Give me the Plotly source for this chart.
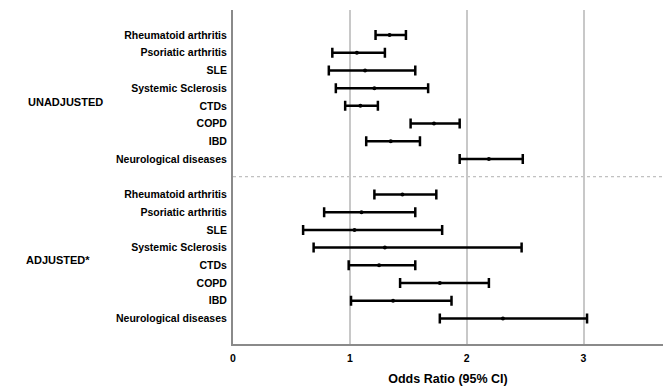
import plotly.graph_objects as go

conditions = ["Rheumatoid arthritis", "Psoriatic arthritis", "SLE", "Systemic Sclerosis",
              "CTDs", "COPD", "IBD", "Neurological diseases"]

unadj_or = [1.34, 1.06, 1.13, 1.21, 1.09, 1.72, 1.35, 2.19]
unadj_lo = [1.22, 0.85, 0.82, 0.88, 0.96, 1.52, 1.14, 1.94]
unadj_hi = [1.48, 1.30, 1.56, 1.67, 1.24, 1.94, 1.60, 2.48]

adj_or = [1.45, 1.10, 1.04, 1.30, 1.25, 1.77, 1.37, 2.31]
adj_lo = [1.21, 0.78, 0.60, 0.69, 0.99, 1.43, 1.01, 1.77]
adj_hi = [1.74, 1.56, 1.79, 2.47, 1.56, 2.19, 1.87, 3.03]

group_labels = ["UNADJUSTED", "ADJUSTED*"]
x_ticks = [0, 1, 2, 3]

n = len(conditions)
y_unadj = list(range(n))
y_adj = [n + 1 + i for i in range(n)]
ys = y_unadj + y_adj
ors = unadj_or + adj_or
los = unadj_lo + adj_lo
his = unadj_hi + adj_hi

fig = go.Figure()
fig.add_trace(go.Scatter(
    x=ors, y=ys, mode="markers",
    marker=dict(color="black", size=4),
    error_x=dict(type="data", symmetric=False,
                 array=[h - o for h, o in zip(his, ors)],
                 arrayminus=[o - l for o, l in zip(ors, los)],
                 color="black", thickness=2.5, width=5),
    showlegend=False, hoverinfo="skip", cliponaxis=False,
))

font_fam = "Liberation Sans, Arial, sans-serif"

# reference line at OR = 1
fig.add_shape(type="line", xref="x", yref="paper", x0=1, x1=1, y0=0, y1=1,
              line=dict(color="#555555", width=1.5), layer="below")
# separator
fig.add_shape(type="line", xref="paper", yref="y", x0=0, x1=1, y0=n, y1=n,
              line=dict(color="#b0b0b0", width=1, dash="dot"), layer="below")

fig.add_annotation(text="<b>%s</b>" % group_labels[0], xref="paper", yref="y",
                   x=-0.481, y=3.76, xanchor="left", yanchor="middle", showarrow=False,
                   font=dict(family=font_fam, size=11, color="black"))
fig.add_annotation(text="<b>%s</b>" % group_labels[1], xref="paper", yref="y",
                   x=-0.486, y=12.7, xanchor="left", yanchor="middle", showarrow=False,
                   font=dict(family=font_fam, size=11, color="black"))

fig.update_layout(
    width=669, height=386,
    margin=dict(l=233, r=6, t=10, b=42),
    plot_bgcolor="white", paper_bgcolor="white",
    xaxis=dict(range=[0, 3.68], tickvals=x_ticks, ticktext=["<b>%d</b>" % t for t in x_ticks],
               automargin=False,
               showgrid=True, gridcolor="#c8c8c8", gridwidth=1.5, zeroline=False,
               showline=True, linecolor="#8a8a8a", linewidth=2,
               ticks="", ticklabelstandoff=3,
               tickfont=dict(family=font_fam, size=10.5, color="black"),
               title=dict(text="<b>Odds Ratio (95% CI)</b>", standoff=12,
                          font=dict(family=font_fam, size=12.5, color="black"))),
    yaxis=dict(range=[17.44, -1.41], tickvals=ys, automargin=False,
               ticktext=["<b>%s</b>" % c for c in conditions + conditions],
               showgrid=False, zeroline=False,
               showline=True, linecolor="#8a8a8a", linewidth=2,
               ticks="", ticklabelstandoff=2,
               tickfont=dict(family=font_fam, size=10.5, color="black")),
)

fig.write_html("out.html", config={"displayModeBar": False},
               post_script="document.body.style.margin='0';")
